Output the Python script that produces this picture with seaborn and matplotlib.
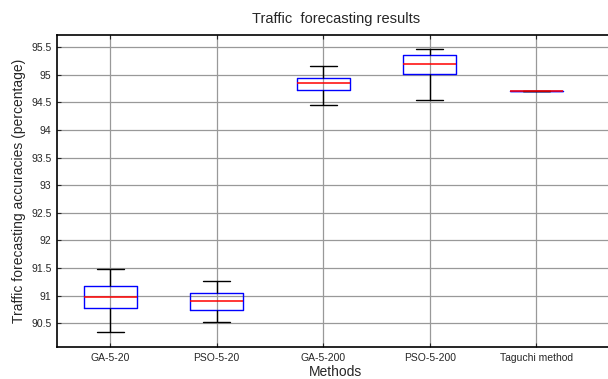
import pandas as pd
import matplotlib
matplotlib.use('Agg')
import matplotlib.pyplot as plt
import seaborn as sns

# five-number summaries: min, q1, median, q3, max
methods = ['GA-5-20', 'PSO-5-20', 'GA-5-200', 'PSO-5-200', 'Taguchi method']
ga_5_20 = [90.34, 90.78, 90.97, 91.18, 91.48]
pso_5_20 = [90.53, 90.74, 90.91, 91.05, 91.26]
ga_5_200 = [94.46, 94.73, 94.85, 94.94, 95.15]
pso_5_200 = [94.54, 95.02, 95.20, 95.35, 95.47]
taguchi = [94.70, 94.70, 94.70, 94.70, 94.70]
yticks = [90.5, 91, 91.5, 92, 92.5, 93, 93.5, 94, 94.5, 95, 95.5]

rows = []
for m, vals in zip(methods, [ga_5_20, pso_5_20, ga_5_200, pso_5_200, taguchi]):
    for v in vals:
        rows.append({'Methods': m, 'acc': v})
df = pd.DataFrame(rows)

sns.set_style('white')
plt.rcParams['font.family'] = ['Liberation Sans', 'DejaVu Sans']

fig = plt.figure(figsize=(6.08, 3.79), dpi=100)
ax = fig.add_axes([57/608, 1 - 347/379, (615 - 57)/608, (347 - 35)/379])

sns.boxplot(data=df, x='Methods', y='acc', order=methods, whis=(0, 100), width=0.5,
            showfliers=False, fill=False, linewidth=1, ax=ax,
            boxprops=dict(color='blue'),
            medianprops=dict(color='red', linewidth=1.1, zorder=10),
            whiskerprops=dict(color='black', linewidth=1),
            capprops=dict(color='black', linewidth=1))

ax.set_xlim(-0.5, -0.5 + (615 - 57)/106.5)
ax.set_ylim(90.07, 95.72)
ax.set_yticks(yticks)
ax.set_yticklabels([f'{t:g}' for t in yticks])
ax.grid(True, color='0.6', linewidth=0.9)
ax.set_axisbelow(True)
for s in ax.spines.values():
    s.set_color('black')
    s.set_linewidth(1.2)
ax.tick_params(direction='in', length=3, top=True, right=True, labelsize=7.5,
               bottom=True, left=True, pad=4)
ax.set_title('Traffic  forecasting results', fontsize=10.5, pad=9)
ax.set_xlabel('Methods', fontsize=10, labelpad=2)
ax.set_ylabel('Traffic forecasting accuracies (percentage)', fontsize=10, labelpad=4)

fig.savefig('out.png', dpi=100)
